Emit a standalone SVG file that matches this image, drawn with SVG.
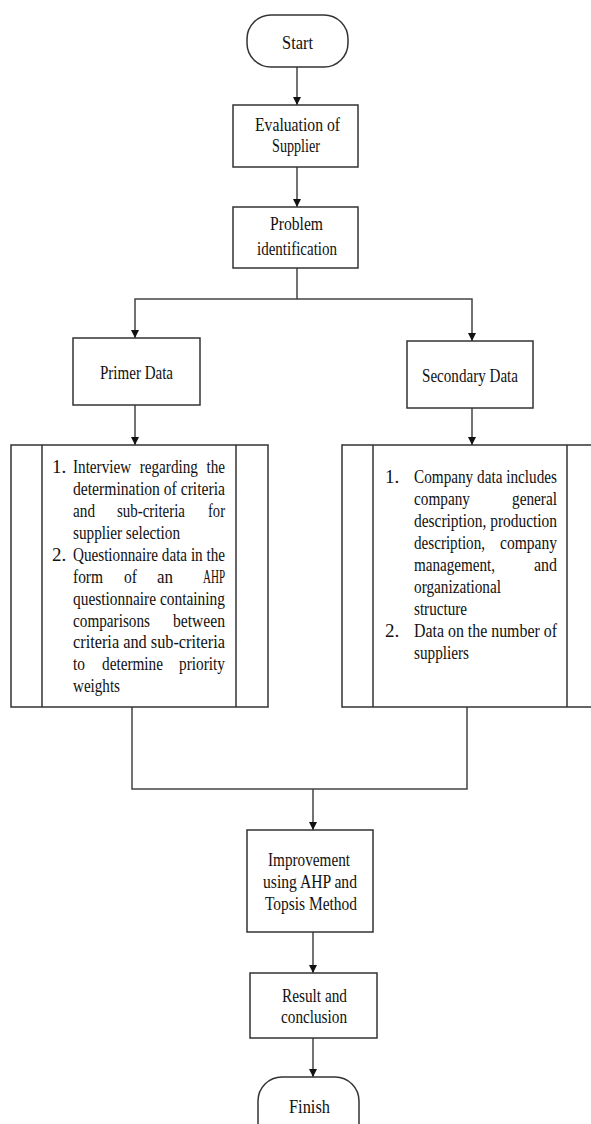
<svg xmlns="http://www.w3.org/2000/svg" width="591" height="1124" viewBox="0 0 591 1124">
<style>
.box{fill:#fff;stroke:#333;stroke-width:1.5}
.ln{fill:none;stroke:#444;stroke-width:1.5}
text{font-family:"Liberation Serif","Times New Roman",serif;font-size:19px;fill:#111}
.c{text-anchor:middle}
</style>
<defs>
<marker id="ah" viewBox="0 0 8 10" refX="8" refY="5" markerWidth="8" markerHeight="10" markerUnits="userSpaceOnUse" orient="auto">
<path d="M0,1 L8,5 L0,9 Z" fill="#111"/>
</marker>
</defs>
<rect width="591" height="1124" fill="#fff"/>
<g id="connectors">
<line class="ln" x1="297" y1="67" x2="297" y2="105" marker-end="url(#ah)"/>
<line class="ln" x1="297" y1="167" x2="297" y2="207" marker-end="url(#ah)"/>
<polyline class="ln" points="297,268 297,299 135,299 135,338" marker-end="url(#ah)"/>
<polyline class="ln" points="297,299 472,299 472,341" marker-end="url(#ah)"/>
<line class="ln" x1="135" y1="405" x2="135" y2="445" marker-end="url(#ah)"/>
<line class="ln" x1="472" y1="408" x2="472" y2="445" marker-end="url(#ah)"/>
<polyline class="ln" points="132,707 132,789 467,789 467,707"/>
<line class="ln" x1="313" y1="789" x2="313" y2="830" marker-end="url(#ah)"/>
<line class="ln" x1="313" y1="932" x2="313" y2="973" marker-end="url(#ah)"/>
<line class="ln" x1="313" y1="1038" x2="313" y2="1077" marker-end="url(#ah)"/>
</g>
<g id="start">
<rect class="box" x="247" y="15" width="101" height="52" rx="24" ry="24"/>
<text class="c" x="297.5" y="49" textLength="31" lengthAdjust="spacingAndGlyphs">Start</text>
</g>
<g id="evaluation">
<rect class="box" x="233" y="105" width="125" height="62"/>
<text class="c" x="297.5" y="131" textLength="85" lengthAdjust="spacingAndGlyphs">Evaluation of</text>
<text class="c" x="296" y="152" textLength="48" lengthAdjust="spacingAndGlyphs">Supplier</text>
</g>
<g id="problem">
<rect class="box" x="233" y="207" width="125" height="61"/>
<text class="c" x="296.5" y="230" textLength="53" lengthAdjust="spacingAndGlyphs">Problem</text>
<text class="c" x="297" y="255" textLength="80" lengthAdjust="spacingAndGlyphs">identification</text>
</g>
<g id="primer">
<rect class="box" x="73" y="338" width="127" height="67"/>
<text class="c" x="136.5" y="379" textLength="73" lengthAdjust="spacingAndGlyphs">Primer Data</text>
</g>
<g id="secondary">
<rect class="box" x="407" y="341" width="126" height="67"/>
<text class="c" x="470" y="382" textLength="96" lengthAdjust="spacingAndGlyphs">Secondary Data</text>
</g>
<g id="primer-detail">
<rect class="box" x="11" y="445" width="257" height="262"/>
<line class="box" x1="42" y1="445" x2="42" y2="707"/>
<line class="box" x1="236" y1="445" x2="236" y2="707"/>
<text x="52" y="473">1.</text>
<text x="73" y="473" word-spacing="6" textLength="152" lengthAdjust="spacingAndGlyphs">Interview regarding the</text>
<text x="73" y="495" textLength="152" lengthAdjust="spacingAndGlyphs">determination of criteria</text>
<text x="73" y="517" textLength="22" lengthAdjust="spacingAndGlyphs">and</text>
<text x="117" y="517" textLength="68" lengthAdjust="spacingAndGlyphs">sub-criteria</text>
<text x="208" y="517" textLength="17" lengthAdjust="spacingAndGlyphs">for</text>
<text x="73" y="539" textLength="107" lengthAdjust="spacingAndGlyphs">supplier selection</text>
<text x="52" y="561">2.</text>
<text x="73" y="561" textLength="152" lengthAdjust="spacingAndGlyphs">Questionnaire data in the</text>
<text x="73" y="583" textLength="30" lengthAdjust="spacingAndGlyphs">form</text>
<text x="124" y="583" textLength="13" lengthAdjust="spacingAndGlyphs">of</text>
<text x="157" y="583" textLength="16" lengthAdjust="spacingAndGlyphs">an</text>
<text x="203" y="583" textLength="22" lengthAdjust="spacingAndGlyphs">AHP</text>
<text x="73" y="605" textLength="152" lengthAdjust="spacingAndGlyphs">questionnaire containing</text>
<text x="73" y="627" textLength="77" lengthAdjust="spacingAndGlyphs">comparisons</text>
<text x="173" y="627" textLength="52" lengthAdjust="spacingAndGlyphs">between</text>
<text x="73" y="648" textLength="152" lengthAdjust="spacingAndGlyphs">criteria and sub-criteria</text>
<text x="73" y="670" textLength="12" lengthAdjust="spacingAndGlyphs">to</text>
<text x="102" y="670" textLength="61" lengthAdjust="spacingAndGlyphs">determine</text>
<text x="179" y="670" textLength="46" lengthAdjust="spacingAndGlyphs">priority</text>
<text x="73" y="692" textLength="47" lengthAdjust="spacingAndGlyphs">weights</text>
</g>
<g id="secondary-detail">
<rect class="box" x="342" y="445" width="260" height="262"/>
<line class="box" x1="373" y1="445" x2="373" y2="707"/>
<line class="box" x1="567" y1="445" x2="567" y2="707"/>
<text x="385" y="483">1.</text>
<text x="414" y="483" textLength="143" lengthAdjust="spacingAndGlyphs">Company data includes</text>
<text x="414" y="505" textLength="56" lengthAdjust="spacingAndGlyphs">company</text>
<text x="512" y="505" textLength="45" lengthAdjust="spacingAndGlyphs">general</text>
<text x="414" y="527" textLength="143" lengthAdjust="spacingAndGlyphs">description, production</text>
<text x="414" y="549" textLength="71" lengthAdjust="spacingAndGlyphs">description,</text>
<text x="500" y="549" textLength="57" lengthAdjust="spacingAndGlyphs">company</text>
<text x="414" y="571" textLength="81" lengthAdjust="spacingAndGlyphs">management,</text>
<text x="534" y="571" textLength="23" lengthAdjust="spacingAndGlyphs">and</text>
<text x="414" y="593" textLength="87" lengthAdjust="spacingAndGlyphs">organizational</text>
<text x="414" y="615" textLength="53" lengthAdjust="spacingAndGlyphs">structure</text>
<text x="385" y="637">2.</text>
<text x="414" y="637" textLength="143" lengthAdjust="spacingAndGlyphs">Data on the number of</text>
<text x="414" y="659" textLength="55" lengthAdjust="spacingAndGlyphs">suppliers</text>
</g>
<g id="improvement">
<rect class="box" x="247" y="830" width="126" height="102"/>
<text class="c" x="309" y="866" textLength="82" lengthAdjust="spacingAndGlyphs">Improvement</text>
<text class="c" x="310" y="888" textLength="94" lengthAdjust="spacingAndGlyphs">using AHP and</text>
<text class="c" x="311" y="910" textLength="92" lengthAdjust="spacingAndGlyphs">Topsis Method</text>
</g>
<g id="result">
<rect class="box" x="250" y="973" width="127" height="65"/>
<text class="c" x="314.5" y="1002" textLength="65" lengthAdjust="spacingAndGlyphs">Result and</text>
<text class="c" x="314" y="1023" textLength="66" lengthAdjust="spacingAndGlyphs">conclusion</text>
</g>
<g id="finish">
<rect class="box" x="258" y="1077" width="101" height="70" rx="24" ry="24"/>
<text class="c" x="309.5" y="1113" textLength="41" lengthAdjust="spacingAndGlyphs">Finish</text>
</g>
</svg>
